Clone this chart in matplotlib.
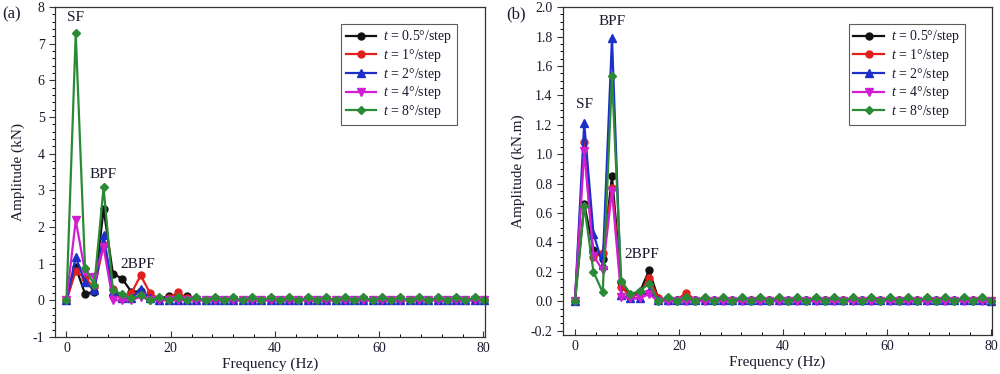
import matplotlib
matplotlib.use("Agg")
import matplotlib.pyplot as plt
from matplotlib.ticker import MultipleLocator, AutoMinorLocator

plt.rcParams['font.family'] = ['Liberation Serif', 'DejaVu Serif']
plt.rcParams['mathtext.fontset'] = 'custom'
plt.rcParams['mathtext.it'] = 'Liberation Serif:italic'
plt.rcParams['mathtext.rm'] = 'Liberation Serif'
plt.rcParams['axes.unicode_minus'] = False

# Frequency bins (Hz)
freq = [0.0, 1.78, 3.56, 5.34, 7.12, 8.9, 10.68, 12.46, 14.24, 16.02, 17.8, 19.58,
        21.36, 23.14, 24.92, 26.7, 28.48, 30.26, 32.04, 33.82, 35.6, 37.38, 39.16,
        40.94, 42.72, 44.5, 46.28, 48.06, 49.84, 51.62, 53.4, 55.18, 56.96, 58.74,
        60.52, 62.3, 64.08, 65.86, 67.64, 69.42, 71.2, 72.98, 74.76, 76.54, 78.32, 80.1]

labels = [r'$t$ = 0.5°/step', r'$t$ = 1°/step', r'$t$ = 2°/step',
          r'$t$ = 4°/step', r'$t$ = 8°/step']

# Panel (a): force amplitude (kN)
force_05 = [0, 0.90, 0.18, 0.23, 2.50, 0.73, 0.59, 0.23, 0.25, 0.05, 0.03, 0.12,
            0.12, 0.12, 0.03, 0.02, 0.02, 0.01, 0.01, 0.01, 0.01, 0.01, 0.01,
            0.01, 0.01, 0.01, 0.01, 0.01, 0.01, 0.01, 0.01, 0.01, 0.01, 0.01,
            0.01, 0.01, 0.01, 0.01, 0.01, 0.01, 0.01, 0.01, 0.01, 0.01, 0.01, 0.0]
force_1 = [0, 0.80, 0.60, 0.35, 1.50, 0.30, 0.10, 0.20, 0.68, 0.20, 0.03, 0.05,
           0.22, 0.05, 0.02, 0.01, 0.01, 0.01, 0.01, 0.01, 0.01, 0.01, 0.01,
           0.01, 0.01, 0.01, 0.01, 0.01, 0.01, 0.01, 0.01, 0.01, 0.01, 0.01,
           0.01, 0.01, 0.01, 0.01, 0.01, 0.01, 0.01, 0.01, 0.01, 0.01, 0.01, 0.0]
force_2 = [0, 1.18, 0.50, 0.28, 1.78, 0.25, 0.05, 0.05, 0.30, 0.05, 0.02, 0.02,
           0.02, 0.02, 0.01, 0.01, 0.01, 0.01, 0.01, 0.01, 0.01, 0.01, 0.01,
           0.01, 0.01, 0.01, 0.01, 0.01, 0.01, 0.01, 0.01, 0.01, 0.01, 0.01,
           0.01, 0.01, 0.01, 0.01, 0.01, 0.01, 0.01, 0.01, 0.01, 0.01, 0.01, 0.0]
force_4 = [0, 2.18, 0.78, 0.64, 1.45, 0.0, 0.0, 0.0, 0.10, 0.0, 0.0, 0.0,
           0.0, 0.0, 0.0, 0.0, 0.0, 0.0, 0.0, 0.0, 0.0, 0.0, 0.0,
           0.0, 0.0, 0.0, 0.0, 0.0, 0.0, 0.0, 0.0, 0.0, 0.0, 0.0,
           0.0, 0.0, 0.0, 0.0, 0.0, 0.0, 0.0, 0.0, 0.0, 0.0, 0.0, 0.0]
force_8 = [0, 7.28, 0.89, 0.41, 3.08, 0.29, 0.16, 0.05, 0.14, 0.0, 0.08, 0.0,
           0.08, 0.0, 0.08, 0.0, 0.08, 0.0, 0.08, 0.0, 0.08, 0.0, 0.08,
           0.0, 0.08, 0.0, 0.08, 0.0, 0.08, 0.0, 0.08, 0.0, 0.08, 0.0,
           0.08, 0.0, 0.08, 0.0, 0.08, 0.0, 0.08, 0.0, 0.08, 0.0, 0.08, 0.0]

# Panel (b): moment amplitude (kN.m)
moment_05 = [0, 0.66, 0.35, 0.29, 0.85, 0.13, 0.04, 0.06, 0.21, 0.02, 0.01, 0.01,
             0.02, 0.01, 0.01, 0.01, 0.01, 0.01, 0.01, 0.01, 0.01, 0.01, 0.01,
             0.01, 0.01, 0.01, 0.01, 0.01, 0.01, 0.01, 0.01, 0.01, 0.01, 0.01,
             0.01, 0.01, 0.01, 0.01, 0.01, 0.01, 0.01, 0.01, 0.01, 0.01, 0.01, 0.0]
moment_1 = [0, 1.08, 0.30, 0.33, 0.77, 0.10, 0.03, 0.05, 0.16, 0.02, 0.01, 0.01,
            0.056, 0.01, 0.01, 0.01, 0.01, 0.01, 0.01, 0.01, 0.01, 0.01, 0.01,
            0.01, 0.01, 0.01, 0.01, 0.01, 0.01, 0.01, 0.01, 0.01, 0.01, 0.01,
            0.01, 0.01, 0.01, 0.01, 0.01, 0.01, 0.01, 0.01, 0.01, 0.01, 0.01, 0.0]
moment_2 = [0, 1.21, 0.46, 0.25, 1.79, 0.04, 0.02, 0.02, 0.07, 0.01, 0.01, 0.01,
            0.01, 0.01, 0.01, 0.01, 0.01, 0.01, 0.01, 0.01, 0.01, 0.01, 0.01,
            0.01, 0.01, 0.01, 0.01, 0.01, 0.01, 0.01, 0.01, 0.01, 0.01, 0.01,
            0.01, 0.01, 0.01, 0.01, 0.01, 0.01, 0.01, 0.01, 0.01, 0.01, 0.01, 0.0]
moment_4 = [0, 1.02, 0.31, 0.21, 0.75, 0.03, 0.02, 0.02, 0.05, 0.0, 0.0, 0.0,
            0.0, 0.0, 0.0, 0.0, 0.0, 0.0, 0.0, 0.0, 0.0, 0.0, 0.0,
            0.0, 0.0, 0.0, 0.0, 0.0, 0.0, 0.0, 0.0, 0.0, 0.0, 0.0,
            0.0, 0.0, 0.0, 0.0, 0.0, 0.0, 0.0, 0.0, 0.0, 0.0, 0.0, 0.0]
moment_8 = [0, 0.65, 0.20, 0.06, 1.53, 0.14, 0.05, 0.07, 0.12, 0.0, 0.03, 0.0,
            0.03, 0.0, 0.03, 0.0, 0.03, 0.0, 0.03, 0.0, 0.03, 0.0, 0.03,
            0.0, 0.03, 0.0, 0.03, 0.0, 0.03, 0.0, 0.03, 0.0, 0.03, 0.0,
            0.03, 0.0, 0.03, 0.0, 0.03, 0.0, 0.03, 0.0, 0.03, 0.0, 0.03, 0.0]

colors = ['#111111', '#e0201c', '#1c2fc8', '#d21ed2', '#2a8a35']
markers = ['o', 'o', '^', 'v', 'D']
msizes = [5, 5, 5.5, 5.5, 4.5]

fig = plt.figure(figsize=(10, 3.74), dpi=100)
axA = fig.add_axes([0.055, 0.099, 0.43, 0.882])
axB = fig.add_axes([0.563, 0.104, 0.429, 0.877])

text_col = '#1a1a2e'

def style(ax):
    for s in ax.spines.values():
        s.set_color('#333333')
        s.set_linewidth(0.9)
    ax.tick_params(axis='x', direction='in', length=4, width=0.8, labelsize=10,
                   colors='#333333', labelcolor=text_col)
    ax.tick_params(axis='x', which='minor', direction='in', length=2, width=0.7)
    ax.tick_params(axis='y', direction='out', length=4, width=0.8, labelsize=10,
                   colors='#333333', labelcolor=text_col)
    ax.tick_params(axis='y', which='minor', direction='out', length=2, width=0.7)
    ax.xaxis.set_major_locator(MultipleLocator(20))
    ax.xaxis.set_minor_locator(MultipleLocator(4))
    ax.set_xlabel('Frequency (Hz)', fontsize=11, color=text_col, labelpad=2)

seriesA = [force_05, force_1, force_2, force_4, force_8]
seriesB = [moment_05, moment_1, moment_2, moment_4, moment_8]

for ax, series in ((axA, seriesA), (axB, seriesB)):
    for vals, c, m, ms, lab in zip(series, colors, markers, msizes, labels):
        ax.plot(freq, vals, color=c, marker=m, markersize=ms, linewidth=1.6,
                label=lab, clip_on=False)
    style(ax)

axA.set_xlim(-2.2, 80.3)
axA.set_ylim(-1, 8)
axA.yaxis.set_major_locator(MultipleLocator(1))
axA.yaxis.set_minor_locator(AutoMinorLocator(5))
axA.set_ylabel('Amplitude (kN)', fontsize=11, color=text_col, labelpad=6)

axB.set_xlim(-2.3, 80.2)
axB.set_ylim(-0.23, 2.0)
axB.yaxis.set_major_locator(MultipleLocator(0.2))
axB.yaxis.set_minor_locator(AutoMinorLocator(4))
axB.yaxis.set_major_formatter(matplotlib.ticker.FormatStrFormatter('%.1f'))
axB.set_ylabel('Amplitude (kN.m)', fontsize=11, color=text_col, labelpad=4)

ann_kw = dict(fontsize=11, color=text_col, ha='center', va='center')
axA.text(1.8, 7.72, 'SF', **ann_kw)
axA.text(7.0, 3.42, 'BPF', **ann_kw)
axA.text(13.7, 0.97, '2BPF', **ann_kw)
axB.text(7.1, 1.9, 'BPF', **ann_kw)
axB.text(1.8, 1.34, 'SF', **ann_kw)
axB.text(12.8, 0.32, '2BPF', **ann_kw)

for ax, xa in ((axA, 0.935), (axB, 0.937)):
    leg = ax.legend(loc='upper right', bbox_to_anchor=(xa, 0.95), borderaxespad=0,
                    fontsize=10, frameon=True, fancybox=False, handlelength=2.2,
                    labelspacing=0.12, borderpad=0.35, handletextpad=0.5)
    leg.get_frame().set_edgecolor('#333333')
    leg.get_frame().set_linewidth(0.8)
    for t in leg.get_texts():
        t.set_color(text_col)

fig.text(0.002, 0.962, '(a)', fontsize=12, color=text_col, va='center')
fig.text(0.506, 0.962, '(b)', fontsize=12, color=text_col, va='center')

fig.savefig('out.png', dpi=100)
